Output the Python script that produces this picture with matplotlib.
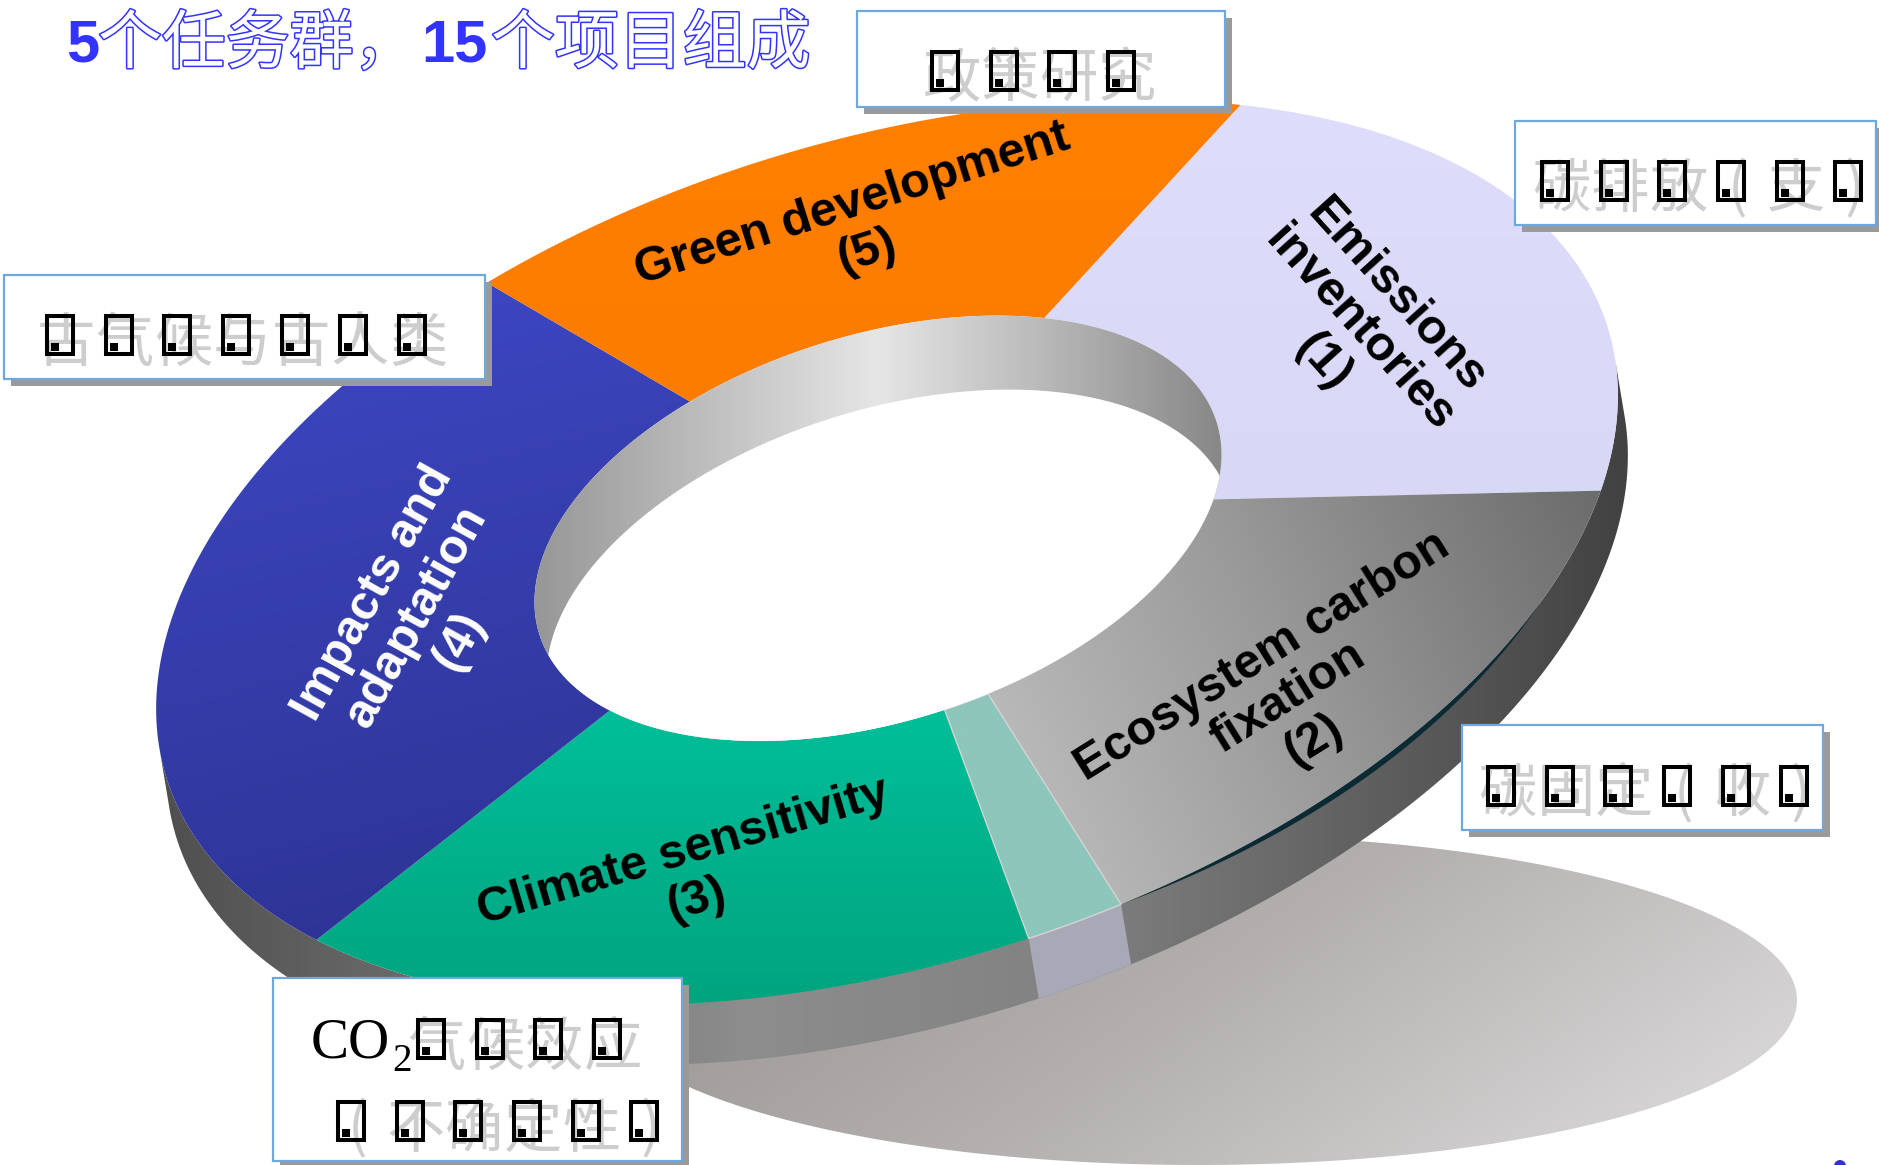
import numpy as np
import matplotlib
matplotlib.use('Agg')
import matplotlib.pyplot as plt
from matplotlib.patches import Polygon, Rectangle, Circle
from matplotlib.colors import LinearSegmentedColormap
import matplotlib.patheffects as pe

W, H = 1879, 1165

# ring segments, clockwise from the upper right (degrees of the ring)
seg_labels = ['Emissions\ninventories\n(1)', 'Ecosystem carbon\nfixation\n(2)', '',
              'Climate sensitivity\n(3)', 'Impacts and\nadaptation\n(4)',
              'Green development\n(5)']
seg_spans = [73.5, 58.9, 7.5, 62.5, 95.5, 62.1]
start_deg = -51.4

# callout boxes
box_lines = [
    ['政策研究'],
    ['碳排放(支)'],
    ['古气候与古人类'],
    ['碳固定(收)'],
    ['气候效应', '(不确定性)'],
]

title_parts = ['5', '个任务群，', '15', '个项目组成']

# ---- geometry of the tilted ring (pixels, y down) ----
C_OUT = np.array([887.0, 552.3])
C_IN = np.array([878.0, 528.3])
A_OUT, B_OUT = 755.0, 411.0
K_IN = 0.47
TILT = np.radians(17.4)
D_OUT = np.array([10.0, 60.0])
D_IN = np.array([12.0, 74.0])
U = np.array([np.cos(TILT), -np.sin(TILT)])
V = np.array([np.sin(TILT), np.cos(TILT)])


def ring(t_deg, r, c):
    t = np.radians(np.asarray(t_deg, dtype=float))
    return c + np.outer(r * A_OUT * np.cos(t), U) + np.outer(r * B_OUT * np.sin(t), V)


fig = plt.figure(figsize=(W / 100, H / 100), dpi=100)
ax = fig.add_axes([0, 0, 1, 1])
ax.axis('off')


def grad_fill(xy, stops, direction, z, n=300):
    poly = Polygon(xy, closed=True, facecolor='none', edgecolor='none', zorder=z)
    ax.add_patch(poly)
    x0, y0 = xy.min(axis=0)
    x1, y1 = xy.max(axis=0)
    gx, gy = np.meshgrid(np.linspace(x0, x1, n), np.linspace(y0, y1, n))
    val = gx * direction[0] + gy * direction[1]
    val = (val - val.min()) / (val.max() - val.min())
    cmap = LinearSegmentedColormap.from_list('g', stops)
    im = ax.imshow(val, cmap=cmap, extent=(x0, x1, y1, y0), origin='upper',
                   zorder=z, interpolation='bilinear', aspect='auto')
    im.set_clip_path(poly)
    return poly


# shadow on the floor
ts = np.linspace(0, 2 * np.pi, 400)
shadow = np.column_stack([1198 + 599 * np.cos(ts), 1000 + 165 * np.sin(ts)])
grad_fill(shadow, [(0, '#928d8b'), (0.5, '#b3b0af'), (1, '#e0dfdf')], (1, 1.4), 1)

# outer side wall (front half only)
tt = np.linspace(0, 360, 1441)[:-1]
top = ring(tt, 1.0, C_OUT)
rad = np.radians(tt)
nrm = np.outer(np.cos(rad) / A_OUT, U) + np.outer(np.sin(rad) / B_OUT, V)
front = nrm @ D_OUT > 0
first = np.argmax(front & ~np.roll(front, 1))
idx = np.roll(np.arange(len(tt)), -first)
idx = idx[front[idx]]
wall = np.vstack([top[idx], top[idx][::-1] + D_OUT])
grad_fill(wall, [(0, '#4f4f4f'), (0.14, '#666666'), (0.4, '#8d8d8d'),
                 (0.62, '#828282'), (0.8, '#646464'), (1, '#424242')], (1, 0), 2)

# segment boundaries
bounds = start_deg + np.concatenate([[0], np.cumsum(seg_spans)])

# wall piece under the narrow segment
t_sl = np.linspace(bounds[2], bounds[3], 30)
p_sl = ring(t_sl, 1.0, C_OUT)
ax.add_patch(Polygon(np.vstack([p_sl, p_sl[::-1] + D_OUT]), closed=True,
                     facecolor='#a9a8b6', edgecolor='none', zorder=2.5))

# top faces
fills = [
    ([(0, '#dedefc'), (1, '#d8d8f6')], (0, 1)),
    ([(0, '#c2c2c2'), (0.5, '#9a9a9a'), (1, '#6c6c6c')], (1, -0.45)),
    ([(0, '#8dc6bb'), (1, '#8dc6bb')], (0, 1)),
    ([(0, '#00bf99'), (1, '#00a47f')], (0, 1)),
    ([(0, '#3e48c6'), (1, '#2c3290')], (0.25, 1)),
    ([(0, '#ff7f00'), (1, '#fc7c00')], (0, 1)),
]
for i, (stops, direction) in enumerate(fills):
    t_arc = np.linspace(bounds[i], bounds[i + 1], 200)
    xy = np.vstack([ring(t_arc, 1.0, C_OUT), ring(t_arc[::-1], K_IN, C_IN)])
    grad_fill(xy, stops, direction, 3)
    if i == 2:
        ax.add_patch(Polygon(xy, closed=True, facecolor='none',
                             edgecolor='#d4d4d4', lw=1.0, zorder=3.1))

# dark rim under the grey segment
t_rim = np.linspace(36, bounds[2], 120)
p_rim = ring(t_rim, 1.0, C_OUT)
w_rim = 5.5 * np.sin(np.pi * (t_rim - t_rim[0]) / (t_rim[-1] - t_rim[0]))
ax.add_patch(Polygon(np.vstack([p_rim, (p_rim + np.column_stack([0.4 * w_rim, w_rim]))[::-1]]),
                     closed=True, facecolor='#0b2a33', edgecolor='none', zorder=3.5))

# inner wall and the hole
inner = ring(tt, K_IN, C_IN)
inner_patch = grad_fill(inner, [(0, '#979797'), (0.5, '#e6e6e6'), (1, '#888888')], (1, 0), 3)
hole = Polygon(inner + D_IN, closed=True, facecolor='white', edgecolor='none', zorder=3.2)
ax.add_patch(hole)
hole.set_clip_path(inner_patch)

# segment labels
label_pos = [(1360, 329, -48), (1288, 698, 32), None, (690, 876, 16.4),
             (416, 617, 61), (860, 228, 17.5)]
for lab, pos in zip(seg_labels, label_pos):
    if not lab:
        continue
    x, y, rot = pos
    ax.text(x, y, lab, ha='center', va='center', rotation=rot, rotation_mode='anchor',
            fontsize=35, fontweight='bold', family='Liberation Sans',
            color='white' if lab.startswith('Impacts') else 'black',
            linespacing=1.12, zorder=5, multialignment='center')

# callout boxes with shadows
boxes = [(857, 11, 1225, 107), (1515, 121, 1876, 225), (4, 275, 485, 379),
         (1462, 725, 1823, 830), (273, 978, 682, 1161)]
for x0, y0, x1, y1 in boxes:
    ax.add_patch(Rectangle((x0 + 7, y0 + 7), x1 - x0, y1 - y0, facecolor='#9a9a9a',
                           edgecolor='none', zorder=6))
    ax.add_patch(Rectangle((x0, y0), x1 - x0, y1 - y0, facecolor='white',
                           edgecolor='#6fa8dc', lw=1.6, zorder=6.5))

# glyph rows inside the boxes: first x, y and step
rows = [
    [(945, 70.5)],
    [(1555, 181)],
    [(60, 335)],
    [(1501, 785.5)],
    [(431, 1039), (351, 1121)],
]
STEP = 58.7


def glyph(x, y, ch):
    ax.text(x + 6, y + 9, ch, ha='center', va='center', fontsize=42,
            family='Noto Sans CJK SC', color='#cdcdcd', zorder=7)
    ax.add_patch(Rectangle((x - 13, y - 19), 26, 38, facecolor='none',
                           edgecolor='black', lw=2.9, zorder=7.5))
    ax.add_patch(Rectangle((x - 9, y + 8), 8, 8, facecolor='black',
                           edgecolor='none', zorder=7.5))


for lines, starts in zip(box_lines, rows):
    for text, (x, y) in zip(lines, starts):
        for k, ch in enumerate(text):
            glyph(x + k * STEP, y, ch)

ax.text(311, 1058, 'CO', ha='left', va='baseline', fontsize=41,
        family='Liberation Serif', color='black', zorder=7.6)
ax.text(392, 1071, '2', ha='left', va='baseline', fontsize=28,
        family='Liberation Serif', color='black', zorder=7.6)

# title
BLUE = '#3333ff'
title_x = [66, 98, 421, 491]
for part, x in zip(title_parts, title_x):
    if part[0].isdigit():
        ax.text(x, 61, part, ha='left', va='baseline', fontsize=43, fontweight='bold',
                family='Liberation Sans', color=BLUE, zorder=9)
    else:
        ax.text(x, 63, part, ha='left', va='baseline', fontsize=46,
                family='Noto Sans CJK SC', color='white', zorder=9,
                path_effects=[pe.withStroke(linewidth=2.2, foreground=BLUE)])

ax.add_patch(Circle((1840, 1166), 6, facecolor='#3333cc', edgecolor='none', zorder=9))

ax.set_xlim(0, W)
ax.set_ylim(H, 0)
fig.savefig('out.png', dpi=100, facecolor='white')
